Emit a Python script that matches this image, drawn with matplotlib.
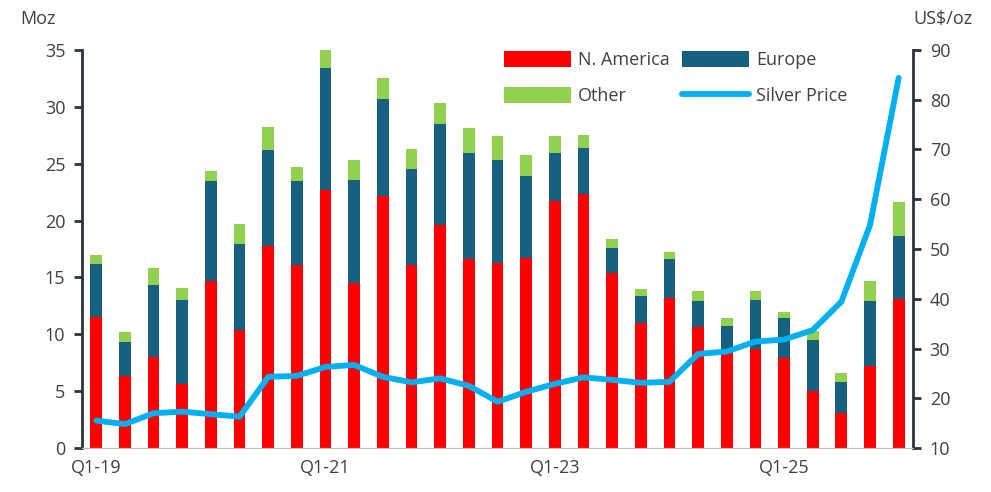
import matplotlib.pyplot as plt
import numpy as np

plt.rcParams['font.family'] = ['Open Sans', 'DejaVu Sans']

# quarters Q1-19 .. Q1-26
quarters = ['Q1-19', 'Q2-19', 'Q3-19', 'Q4-19', 'Q1-20', 'Q2-20', 'Q3-20', 'Q4-20',
            'Q1-21', 'Q2-21', 'Q3-21', 'Q4-21', 'Q1-22', 'Q2-22', 'Q3-22', 'Q4-22',
            'Q1-23', 'Q2-23', 'Q3-23', 'Q4-23', 'Q1-24', 'Q2-24', 'Q3-24', 'Q4-24',
            'Q1-25', 'Q2-25', 'Q3-25', 'Q4-25', 'Q1-26']

# stacked tops (Moz)
na_top = [11.5, 6.3, 8.0, 5.6, 14.7, 10.4, 17.8, 16.1, 22.7, 14.5, 22.2, 16.1, 19.6, 16.6,
          16.3, 16.7, 21.7, 22.3, 15.4, 11.0, 13.2, 10.6, 8.6, 8.7, 7.9, 5.0, 3.1, 7.2, 13.1]
eu_top = [16.2, 9.3, 14.3, 13.0, 23.5, 17.9, 26.2, 23.5, 33.4, 23.6, 30.7, 24.5, 28.5, 25.9,
          25.3, 23.9, 25.9, 26.4, 17.6, 13.4, 16.6, 12.9, 10.7, 13.0, 11.4, 9.5, 5.8, 12.9, 18.6]
total = [17.0, 10.2, 15.8, 14.1, 24.4, 19.7, 28.2, 24.7, 35.0, 25.3, 32.5, 26.3, 30.3, 28.1,
         27.4, 25.8, 27.4, 27.5, 18.4, 14.0, 17.2, 13.8, 11.4, 13.8, 12.0, 10.3, 6.6, 14.7, 21.6]

# silver price (US$/oz)
silver = [15.5, 14.8, 17.0, 17.3, 16.8, 16.3, 24.3, 24.5, 26.3, 26.7, 24.3, 23.2, 24.0, 22.5,
          19.3, 21.3, 22.9, 24.2, 23.7, 23.1, 23.3, 28.9, 29.4, 31.4, 31.8, 33.7, 39.4, 54.8, 84.4]

na = np.array(na_top)
europe = np.array(eu_top) - na
other = np.array(total) - np.array(eu_top)

x = np.arange(len(quarters))
txt = '#404040'
spine_c = '#2b3340'
fs = 13

fig = plt.figure(figsize=(9.91, 4.92), dpi=100)
ax = fig.add_axes([0.0827, 0.0894, 0.8386, 0.809])
ax2 = ax.twinx()

w = 0.41
ax.bar(x, na, w, color='#FF0000', label='N. America', zorder=2)
ax.bar(x, europe, w, bottom=na, color='#17607F', label='Europe', zorder=2)
ax.bar(x, other, w, bottom=na + europe, color='#92D050', label='Other', zorder=2)
ln, = ax2.plot(x, silver, color='#00B0F0', lw=4.2, solid_capstyle='round',
               solid_joinstyle='round', label='Silver Price')

ax.set_xlim(-0.5, 28.5)
ax.set_ylim(0, 35)
ax.set_yticks(range(0, 36, 5))
ax2.set_ylim(10, 90)
ax2.set_yticks(range(10, 91, 10))

ax.set_xticks([0, 8, 16, 24])
ax.set_xticklabels(['Q1-19', 'Q1-21', 'Q1-23', 'Q1-25'])

for a in (ax, ax2):
    a.spines['top'].set_visible(False)
    a.spines['bottom'].set_color('#bfbfbf')
    a.spines['left'].set_color(spine_c)
    a.spines['right'].set_color(spine_c)
    a.spines['left'].set_linewidth(2)
    a.spines['right'].set_linewidth(2)
ax.spines['right'].set_visible(False)
ax2.spines['left'].set_visible(False)

ax.tick_params(axis='y', colors=spine_c, labelcolor=txt, labelsize=fs, length=6, width=2, pad=6)
ax2.tick_params(axis='y', colors=spine_c, labelcolor=txt, labelsize=fs, length=6, width=2, pad=6)
ax.tick_params(axis='x', length=0, labelcolor=txt, labelsize=fs, pad=8)

fig.text(0.038, 0.962, 'Moz', color=txt, fontsize=fs, va='center', ha='center')
fig.text(0.952, 0.962, 'US$/oz', color=txt, fontsize=fs, va='center', ha='center')

h, l = ax.get_legend_handles_labels()
# column order: N. America / Other, Europe / Silver Price
ax.legend([h[0], h[2], h[1], ln],
          ['N. America', 'Other', 'Europe', 'Silver Price'],
          ncol=2, frameon=False, fontsize=fs, labelcolor=txt,
          loc='upper left', bbox_to_anchor=(0.488, 1.038), handlelength=3.7,
          handleheight=1.0, columnspacing=0.7, handletextpad=0.4, labelspacing=0.95)

fig.savefig('out.png', dpi=100)
